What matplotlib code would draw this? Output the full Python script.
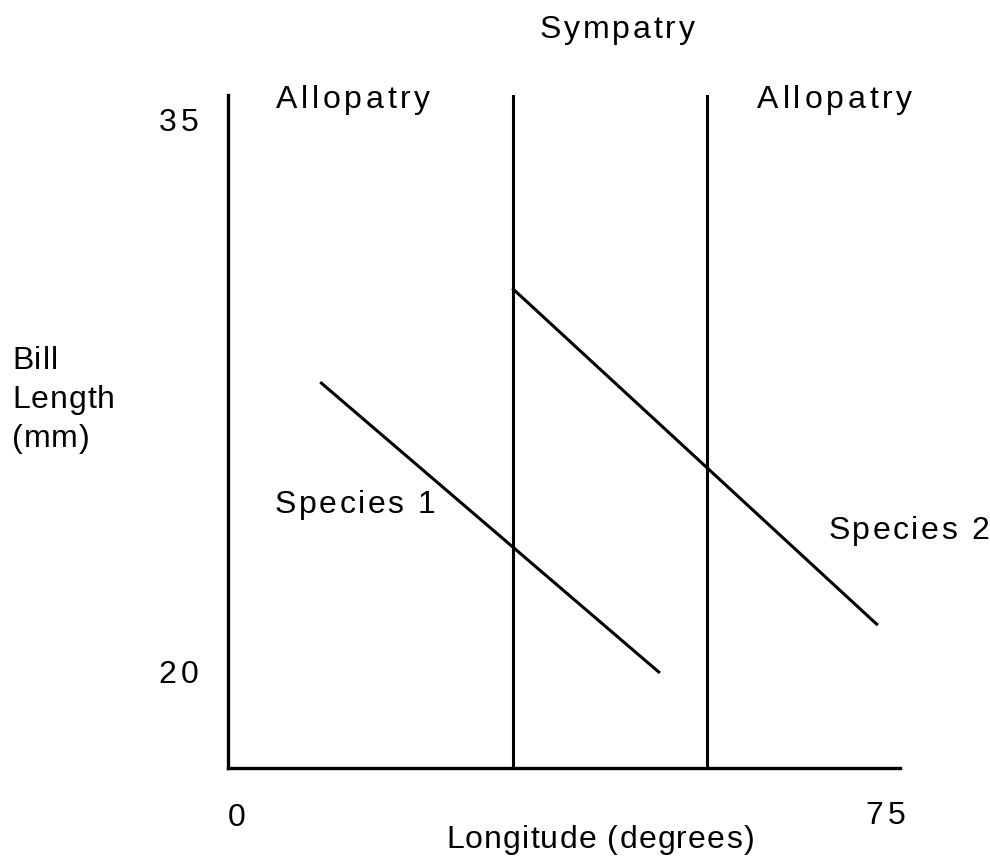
import matplotlib.pyplot as plt
from matplotlib.font_manager import FontProperties, findfont, get_font

plt.rcParams['font.family'] = ['Liberation Sans', 'DejaVu Sans']

DPI = 100

# region boundaries (longitude, degrees)
zone_bounds = [32.0, 54.4]

# species bill length lines: (x start, x end), (y start, y end)
sp1_x = [9.8, 48.8]
sp1_y = [27.85, 20.0]
sp2_x = [32.0, 74.0]
sp2_y = [30.4, 21.3]

x_ticks = [0, 75]
y_ticks = [35, 20]

fig = plt.figure(figsize=(9.9, 8.59), dpi=DPI)
ax = fig.add_axes([0.2303, 0.1059, 0.9091 - 0.2303, 0.8894 - 0.1059])


def spaced(x, y, s, size=23, track=3.0, ha='left', coords='data'):
    # letter-spaced text, (x, y) is the vertical centre of the line
    prop = FontProperties(family='Liberation Sans', size=size)
    font = get_font(findfont(prop))
    font.set_size(size, DPI)
    adv = [font.load_char(ord(c)).linearHoriAdvance / 65536 for c in s]
    total = sum(adv) + track * (len(s) - 1)
    x0 = {'left': 0, 'center': -total / 2, 'right': -total}[ha]
    dy = -0.26 * size * DPI / 72
    for c, a in zip(s, adv):
        if c != ' ':
            ax.annotate(c, (x, y), xycoords=coords, xytext=(x0, dy),
                        textcoords='offset pixels', fontsize=size,
                        ha='left', va='baseline', annotation_clip=False)
        x0 += a + track


ax.plot(sp1_x, sp1_y, color='black', lw=2.2)
ax.plot(sp2_x, sp2_y, color='black', lw=2.2)
for xb in zone_bounds:
    ax.axvline(xb, color='black', lw=2.2)

ax.set_xlim(-1.0, 76.7)
ax.set_ylim(17.39, 35.68)

for s in ['top', 'right']:
    ax.spines[s].set_visible(False)
for s in ['left', 'bottom']:
    ax.spines[s].set_linewidth(2.4)
ax.set_xticks([])
ax.set_yticks([])

# tick labels, letter-spaced like the original
for yt in y_ticks:
    spaced(-4.4, yt - 0.08, str(yt), track=4.5, ha='right')
spaced(x_ticks[0], 16.05, str(x_ticks[0]), ha='center')
spaced(x_ticks[1], 16.1, str(x_ticks[1]), track=4.5, ha='center')

spaced(4.5, 35.55, 'Allopatry', track=3.8)
spaced(60.2, 35.55, 'Allopatry', track=3.8)
spaced(44.0, 37.45, 'Sympatry', track=2.8, ha='center')
spaced(4.4, 24.55, 'Species 1', track=2.5)
spaced(68.4, 23.85, 'Species 2', track=2.5)
spaced(24.2, 15.45, 'Longitude (degrees)', track=1.2)

for i, line in enumerate(['Bill', 'Length', '(mm)']):
    spaced(12 / 990, 1 - (361 + 39 * i) / 859, line, track=1.0,
           coords='figure fraction')

fig.savefig('out.png', dpi=DPI)
